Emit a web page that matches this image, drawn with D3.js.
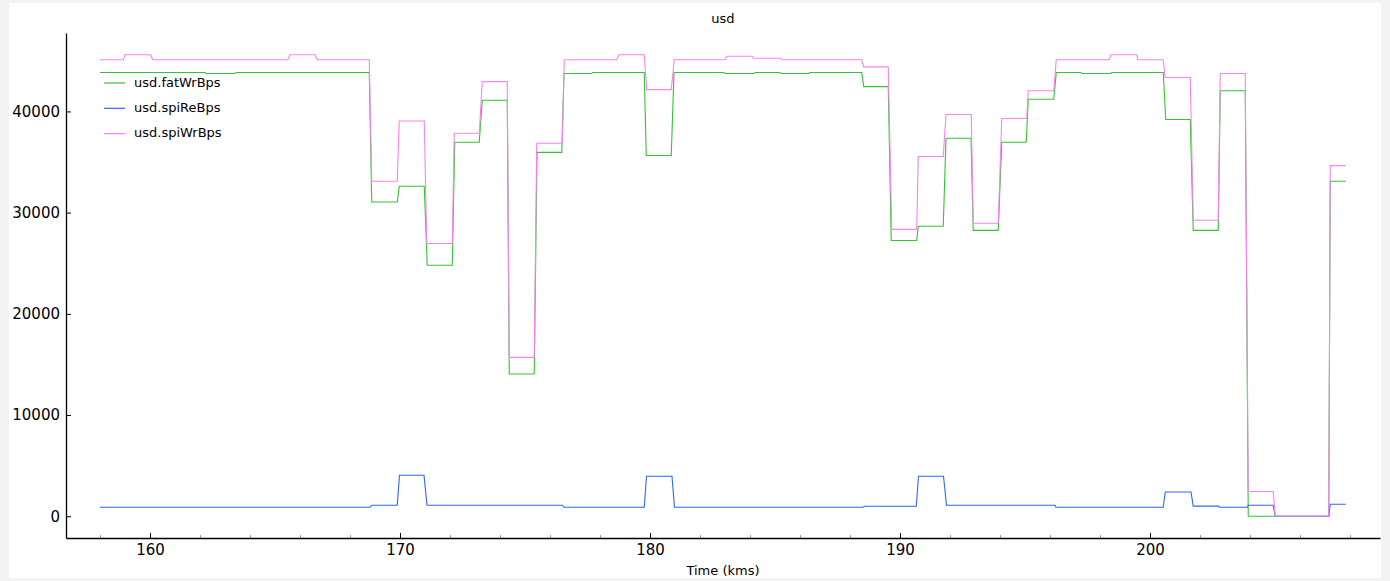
<!DOCTYPE html>
<html>
<head>
<meta charset="utf-8">
<script src="https://cdn.jsdelivr.net/npm/d3@7"></script>
<style>
  html, body { margin: 0; padding: 0; background: #f3f3f3; }
  svg { display: block; font-family: "DejaVu Sans", sans-serif; }
</style>
</head>
<body>
<svg id="chart" width="1390" height="581"></svg>
<script>
// ---- data: plateaus as [time start (kms), time end (kms), value] ----
const chartTitle = "usd";
const xLabel = "Time (kms)";
const seriesNames = ["usd.fatWrBps", "usd.spiReBps", "usd.spiWrBps"];
const seriesColors = ["#33c433", "#2a66ff", "#f982f0"];

const fatWrBps = [
  [158.0, 162.2, 43850], [162.24, 163.4, 43750], [163.44, 168.77, 43850],
  [168.87, 169.89, 31050], [169.97, 170.97, 32600], [171.09, 172.09, 24800],
  [172.19, 173.17, 36950], [173.29, 174.29, 41100], [174.37, 175.37, 14050],
  [175.48, 176.47, 35950], [176.56, 177.67, 43750], [177.7, 179.77, 43850],
  [179.85, 180.85, 35650], [180.96, 182.96, 43850], [183.0, 184.16, 43750],
  [184.2, 185.2, 43850], [185.24, 186.36, 43750], [186.4, 188.47, 43850],
  [188.55, 189.53, 42450], [189.65, 190.67, 27250], [190.73, 191.73, 28650],
  [191.84, 192.84, 37350], [192.93, 193.93, 28250], [194.07, 195.05, 36950],
  [195.13, 196.15, 41200], [196.25, 197.23, 43850], [197.27, 198.43, 43750],
  [198.47, 200.53, 43850], [200.63, 201.61, 39200], [201.73, 202.73, 28250],
  [202.81, 203.81, 42050], [203.93, 207.15, 0], [207.21, 207.83, 33100]
];

const spiReBps = [
  [158.0, 168.8, 890], [168.88, 169.89, 1090], [169.98, 170.96, 4050],
  [171.08, 176.5, 1090], [176.56, 179.77, 890], [179.86, 180.88, 3950],
  [180.98, 188.53, 890], [188.58, 190.65, 990], [190.74, 191.74, 3950],
  [191.86, 196.2, 1090], [196.24, 200.53, 890], [200.61, 201.64, 2400],
  [201.73, 202.75, 1000], [202.78, 203.89, 890], [203.93, 204.93, 1090],
  [205.01, 207.15, 0], [207.21, 207.83, 1190]
];

const spiWrBps = [
  [158.0, 158.93, 45100], [159.0, 160.03, 45600], [160.11, 165.51, 45100],
  [165.6, 166.6, 45600], [166.69, 168.77, 45100], [168.87, 169.89, 33100],
  [169.97, 170.97, 39050], [171.07, 172.09, 26950], [172.17, 173.17, 37850],
  [173.29, 174.29, 42950], [174.37, 175.37, 15700], [175.47, 176.49, 36850],
  [176.57, 178.67, 45100], [178.76, 179.77, 45600], [179.87, 180.85, 42150],
  [180.97, 183.0, 45100], [183.08, 184.09, 45450], [184.14, 185.24, 45250],
  [185.28, 188.47, 45100], [188.55, 189.53, 44400], [189.67, 190.67, 28350],
  [190.73, 191.73, 35550], [191.84, 192.85, 39700], [192.93, 193.93, 28950],
  [194.07, 195.07, 39300], [195.13, 196.15, 42050], [196.25, 198.37, 45100],
  [198.44, 199.47, 45600], [199.52, 200.53, 45100], [200.61, 201.61, 43350],
  [201.73, 202.73, 29250], [202.81, 203.81, 43750], [203.93, 204.93, 2450],
  [205.01, 207.15, 0], [207.21, 207.83, 34650]
];

const xDomain = [156.64, 209.2];
const yDomain = [-2150, 47750];
const yTickValues = [0, 10000, 20000, 30000, 40000];
const xMajorTicks = [160, 170, 180, 190, 200];
const xMinorTicks = [158, 162, 164, 166, 168, 172, 174, 176, 178, 182, 184, 186, 188, 192, 194, 196, 198, 202, 204, 206, 208];

// ---- drawing ----
const svg = d3.select("#chart");
const plot = { left: 66, right: 1380, top: 33, bottom: 538 };

svg.append("rect").attr("x", 9).attr("y", 3).attr("width", 1372).attr("height", 575).attr("fill", "#ffffff");

const x = d3.scaleLinear().domain(xDomain).range([plot.left, plot.right]);
const y = d3.scaleLinear().domain(yDomain).range([plot.bottom, plot.top]);

const toPoints = plateaus => plateaus.flatMap(([t0, t1, v]) => [[t0, v], [t1, v]]);
const line = d3.line().x(d => x(d[0])).y(d => y(d[1]));

svg.append("defs").append("clipPath").attr("id", "clip")
  .append("rect").attr("x", plot.left).attr("y", plot.top)
  .attr("width", plot.right - plot.left).attr("height", plot.bottom - plot.top);

const gLines = svg.append("g").attr("clip-path", "url(#clip)");
[fatWrBps, spiReBps, spiWrBps].forEach((s, i) => {
  gLines.append("path")
    .datum(toPoints(s))
    .attr("fill", "none")
    .attr("stroke", seriesColors[i])
    .attr("stroke-width", 1.1)
    .attr("d", line);
});

// minor x ticks
svg.append("g")
  .attr("transform", `translate(0,${plot.bottom})`)
  .call(d3.axisBottom(x).tickValues(xMinorTicks).tickSizeInner(-3).tickSizeOuter(0).tickFormat(""))
  .call(g => g.select(".domain").remove())
  .call(g => g.selectAll(".tick line").attr("stroke", "#9a9a9a"));

// major x axis
svg.append("g")
  .attr("transform", `translate(0,${plot.bottom})`)
  .call(d3.axisBottom(x).tickValues(xMajorTicks).tickSizeInner(-5).tickSizeOuter(0).tickPadding(6).tickFormat(d3.format("d")))
  .call(g => g.select(".domain").attr("stroke", "#000").attr("stroke-width", 1.3))
  .call(g => g.selectAll(".tick text").attr("font-size", 15).attr("font-family", "DejaVu Sans").attr("fill", "#000"));

// y axis
svg.append("g")
  .attr("transform", `translate(${plot.left},0)`)
  .call(d3.axisLeft(y).tickValues(yTickValues).tickSizeInner(-5).tickSizeOuter(0).tickPadding(6).tickFormat(d3.format("d")))
  .call(g => g.select(".domain").attr("stroke", "#000").attr("stroke-width", 1.3))
  .call(g => g.selectAll(".tick text").attr("font-size", 15).attr("font-family", "DejaVu Sans").attr("fill", "#000"));

// title & x label
svg.append("text").attr("x", (plot.left + plot.right) / 2).attr("y", 19)
  .attr("text-anchor", "middle").attr("dominant-baseline", "middle")
  .attr("font-size", 13).attr("fill", "#000").text(chartTitle);
svg.append("text").attr("x", (plot.left + plot.right) / 2).attr("y", 571)
  .attr("text-anchor", "middle").attr("dominant-baseline", "middle")
  .attr("font-size", 13).attr("fill", "#000").text(xLabel);

// legend
const legend = svg.append("g");
seriesNames.forEach((name, i) => {
  const ly = 83 + i * 25.3;
  legend.append("line").attr("x1", 104).attr("x2", 125).attr("y1", ly).attr("y2", ly)
    .attr("stroke", seriesColors[i]).attr("stroke-width", 1.2);
  legend.append("text").attr("x", 134).attr("y", ly)
    .attr("dominant-baseline", "middle").attr("font-size", 13).attr("fill", "#000").text(name);
});
</script>
</body>
</html>
